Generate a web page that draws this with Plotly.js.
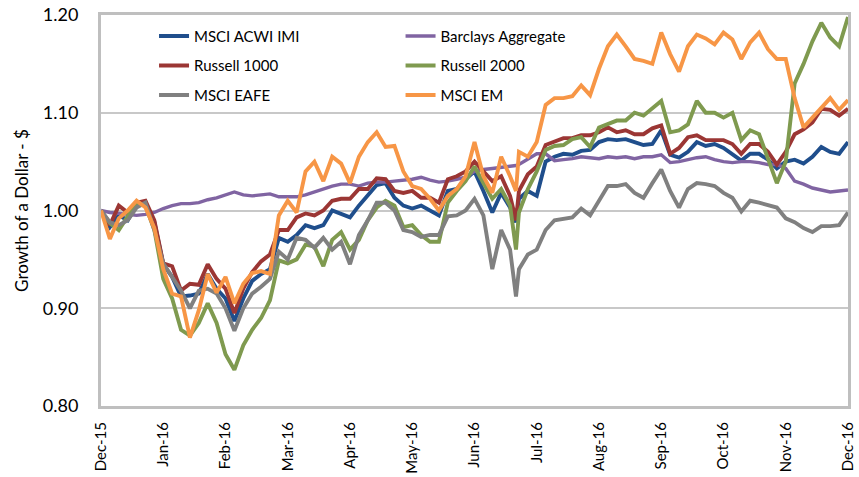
<!DOCTYPE html>
<html>
<head>
<meta charset="utf-8">
<script src="https://cdn.plot.ly/plotly-3.0.1.min.js"></script>
<style>html,body{margin:0;padding:0;background:#fff;}#chart{width:859px;height:477px;}</style>
</head>
<body>
<div id="chart"></div>
<script>
// trading-day index since 31-Dec-2015
const days = [
  0,3,6,9,12,15,18,21,24,27,
  30,33,36,39,42,45,48,51,54,57,
  60,63,66,69,72,75,78,81,84,87,
  90,93,96,99,102,105,108,111,114,117,
  120,123,126,129,132,135,138,140,141,144,
  147,150,153,156,159,162,165,168,171,174,
  177,180,183,186,189,192,195,198,201,204,
  207,210,213,216,219,222,225,228,231,234,
  237,240,243,246,249,252
];

const tickDays = [0,21,42,63,84,105,126,147,168,189,210,231,252];
const tickLabels = ["Dec-15","Jan-16","Feb-16","Mar-16","Apr-16","May-16","Jun-16","Jul-16","Aug-16","Sep-16","Oct-16","Nov-16","Dec-16"];

const acwiImi = [
  1.000,0.983,0.995,0.990,1.005,1.008,0.988,0.945,0.932,0.912,
  0.913,0.915,0.935,0.920,0.910,0.887,0.910,0.928,0.935,0.940,
  0.972,0.968,0.975,0.985,0.982,0.985,1.000,0.997,0.993,1.005,
  1.015,1.026,1.028,1.013,1.005,1.002,1.005,1.000,0.995,1.020,
  1.022,1.032,1.040,1.020,0.998,1.018,1.003,0.988,1.012,1.020,
  1.015,1.050,1.055,1.058,1.057,1.061,1.062,1.070,1.073,1.072,
  1.073,1.070,1.067,1.068,1.082,1.057,1.054,1.060,1.070,1.066,
  1.068,1.064,1.058,1.051,1.058,1.058,1.052,1.043,1.050,1.052,
  1.048,1.055,1.065,1.060,1.058,1.070
];

const barclaysAgg = [
  1.000,0.998,0.997,0.996,0.995,0.996,0.998,1.002,1.005,1.007,
  1.007,1.008,1.011,1.013,1.016,1.019,1.016,1.015,1.016,1.017,
  1.014,1.014,1.014,1.016,1.019,1.022,1.025,1.027,1.027,1.025,
  1.028,1.029,1.029,1.030,1.031,1.032,1.034,1.031,1.029,1.030,
  1.032,1.034,1.040,1.042,1.043,1.044,1.045,1.046,1.047,1.053,
  1.058,1.058,1.051,1.052,1.053,1.055,1.054,1.053,1.055,1.054,
  1.055,1.053,1.055,1.055,1.057,1.049,1.050,1.052,1.054,1.055,
  1.052,1.050,1.049,1.050,1.050,1.049,1.047,1.047,1.043,1.030,
  1.027,1.023,1.021,1.019,1.020,1.021
];

const russell1000 = [
  1.000,0.985,1.005,0.998,1.008,1.010,0.990,0.946,0.943,0.918,
  0.925,0.924,0.945,0.930,0.920,0.895,0.920,0.937,0.948,0.955,
  0.980,0.980,0.993,0.997,0.995,1.000,1.010,1.012,1.012,1.022,
  1.022,1.033,1.032,1.020,1.018,1.020,1.013,1.013,1.008,1.032,
  1.035,1.040,1.050,1.040,1.030,1.035,1.015,0.990,1.020,1.037,
  1.045,1.067,1.070,1.074,1.074,1.077,1.077,1.080,1.085,1.080,
  1.082,1.078,1.078,1.084,1.087,1.058,1.064,1.075,1.077,1.072,
  1.072,1.072,1.068,1.058,1.068,1.068,1.060,1.047,1.060,1.078,
  1.083,1.090,1.104,1.103,1.097,1.104
];

const russell2000 = [
  1.000,0.987,0.980,0.994,1.008,1.005,0.980,0.930,0.910,0.878,
  0.872,0.885,0.905,0.885,0.853,0.837,0.862,0.878,0.890,0.908,
  0.949,0.946,0.950,0.965,0.963,0.943,0.970,0.978,0.960,0.970,
  0.990,1.003,1.010,1.005,0.983,0.985,0.975,0.968,0.968,1.008,
  1.020,1.030,1.045,1.028,1.012,1.022,1.005,0.960,0.998,1.022,
  1.040,1.062,1.066,1.067,1.073,1.075,1.065,1.085,1.088,1.092,
  1.092,1.100,1.097,1.105,1.112,1.080,1.082,1.088,1.112,1.100,
  1.100,1.095,1.100,1.072,1.082,1.078,1.052,1.028,1.050,1.130,
  1.150,1.173,1.192,1.177,1.168,1.198
];

const msciEafe = [
  1.000,0.988,0.985,0.990,1.003,1.008,0.980,0.946,0.932,0.918,
  0.900,0.918,0.920,0.915,0.900,0.877,0.900,0.915,0.922,0.930,
  0.958,0.950,0.972,0.970,0.962,0.972,0.960,0.968,0.945,0.975,
  0.990,1.008,1.008,1.000,0.980,0.978,0.973,0.975,0.975,0.994,
  0.995,1.000,1.012,0.995,0.940,0.980,0.960,0.912,0.940,0.955,
  0.960,0.980,0.990,0.992,0.993,1.002,0.995,1.010,1.025,1.025,
  1.027,1.018,1.013,1.028,1.042,1.020,1.003,1.022,1.028,1.027,
  1.025,1.018,1.013,0.999,1.010,1.008,1.006,1.003,0.992,0.988,
  0.982,0.978,0.984,0.984,0.985,0.998
];

const msciEm = [
  1.000,0.971,0.992,1.000,1.010,1.003,0.982,0.940,0.915,0.912,
  0.870,0.898,0.935,0.916,0.932,0.905,0.925,0.936,0.938,0.935,
  0.995,1.010,0.998,1.040,1.050,1.030,1.055,1.048,1.028,1.055,
  1.070,1.080,1.065,1.066,1.040,1.025,1.022,1.012,1.000,1.015,
  1.022,1.035,1.070,1.035,1.018,1.055,1.035,1.020,1.060,1.055,
  1.070,1.108,1.115,1.115,1.117,1.128,1.118,1.145,1.168,1.180,
  1.168,1.155,1.153,1.150,1.182,1.160,1.142,1.168,1.180,1.176,
  1.170,1.182,1.175,1.155,1.172,1.182,1.165,1.155,1.155,1.115,
  1.085,1.095,1.105,1.115,1.103,1.113
];

const seriesNames = ["MSCI ACWI IMI","Barclays Aggregate","Russell 1000","Russell 2000","MSCI EAFE","MSCI EM"];
const seriesValues = [acwiImi, barclaysAgg, russell1000, russell2000, msciEafe, msciEm];
const seriesColors = ["#1F4E8C","#8064A2","#9B3634","#7F9A4F","#808080","#F79646"];
const seriesLegend = ["legend","legend2","legend","legend2","legend","legend2"];

const FONT = "Lato, 'Open Sans', sans-serif";

const traces = seriesNames.map((n, i) => ({
  type: "scatter",
  mode: "lines",
  name: n,
  x: days,
  y: seriesValues[i],
  line: {color: seriesColors[i], width: (i === 1 ? 3.4 : 3.9)},
  legend: seriesLegend[i],
  legendgroup: "g" + i,
  hoverinfo: "x+y+name"
}));

const legendCommon = {
  xanchor: "left", yanchor: "top",
  bgcolor: "rgba(0,0,0,0)",
  font: {family: FONT, size: 15, color: "#000"},
  tracegroupgap: 7,
  orientation: "v"
};

const layout = {
  width: 859, height: 477,
  margin: {l: 101, r: 11, t: 15, b: 71, pad: 0},
  paper_bgcolor: "#fff",
  plot_bgcolor: "#fff",
  font: {family: FONT, color: "#000"},
  showlegend: true,
  legend: Object.assign({}, legendCommon, {x: 0.071, y: 0.988}),
  legend2: Object.assign({}, legendCommon, {x: 0.401, y: 0.988}),
  xaxis: {
    type: "linear",
    range: [0, 252],
    tickmode: "array",
    tickvals: tickDays,
    ticktext: tickLabels,
    tickangle: -90,
    tickfont: {family: FONT, size: 15, color: "#000"},
    ticks: "outside", ticklen: 7, tickcolor: "rgba(0,0,0,0)",
    showgrid: false,
    zeroline: false,
    showline: true, mirror: true, linecolor: "#BFBFBF", linewidth: 3
  },
  yaxis: {
    range: [0.80, 1.20],
    tickmode: "array",
    tickvals: [0.80, 0.90, 1.00, 1.10, 1.20],
    tickformat: ".2f",
    tickfont: {family: FONT, size: 18, color: "#000"},
    ticks: "outside", ticklen: 16, tickcolor: "rgba(0,0,0,0)",
    showgrid: true, gridcolor: "#C8C8C8", gridwidth: 2,
    zeroline: false,
    showline: true, mirror: true, linecolor: "#BFBFBF", linewidth: 3,
    title: {text: "Growth of a Dollar - $", font: {family: FONT, size: 17, color: "#000"}, standoff: 10}
  }
};

Plotly.newPlot("chart", traces, layout, {displayModeBar: false, staticPlot: true});
</script>
</body>
</html>
